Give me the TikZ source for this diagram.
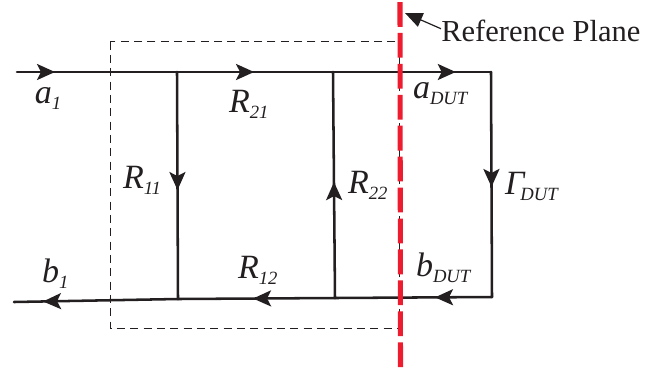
\documentclass[tikz,border=0pt]{standalone}
\usepackage{fontspec}
\setmainfont{Liberation Serif}
\usepackage{xcolor}
\usetikzlibrary{arrows.meta, decorations.markings}
\definecolor{inkblack}{HTML}{231F20}
\definecolor{planered}{HTML}{ED1C2E}
\newcommand{\siglabel}[2]{{\fontsize{25.5}{28}\selectfont\itshape #1}\raisebox{-5pt}{\fontsize{14}{16}\selectfont\itshape #2}}

\begin{document}
\begin{tikzpicture}[
    x=0.75pt, y=-0.75pt,
    wire/.style={draw=inkblack, line width=1.9pt, line cap=round},
    flow/.style={wire, postaction={decorate}, decoration={markings,
        mark=at position #1 with {\arrow[inkblack]{Stealth[length=13.5pt, width=12pt, inset=3pt]}}}},
    siglab/.style={anchor=base west, inner sep=0pt, outer sep=0pt, text=inkblack},
    boxline/.style={draw=inkblack, line width=0.75pt, dash pattern=on 6pt off 4pt},
    plane/.style={draw=planered, line width=3.8pt, dash pattern=on 18.6pt off 4.6pt}
]
\useasboundingbox (0,0) rectangle (665,376);

% Junctions
\coordinate (a1in) at (17,72);
\coordinate (topl) at (177,72);
\coordinate (topr) at (333,72);
\coordinate (cornert) at (491,72);
\coordinate (cornerb) at (492,297);
\coordinate (botr) at (335,298);
\coordinate (botl) at (178,299);
\coordinate (b1out) at (14,302);

% Dashed box
\coordinate (boxnw) at (110,41.5);
\coordinate (boxse) at (399.5,328);
\draw[boxline] (boxnw) rectangle (boxse);

% Top path
\draw[flow=0.2375] (a1in) -- (topl);
\draw[flow=0.494] (topl) -- (topr);
\draw[flow=0.777] (topr) -- (cornert);

% Rungs
\draw[flow=0.52] (topl) -- (botl);
\draw[flow=0.513] (botr) -- (topr);
\draw[flow=0.511] (cornert) -- (cornerb);

% Bottom path
\draw[flow=0.363] (cornerb) -- (botr);
\draw[flow=0.522] (botr) -- (botl);
\draw[flow=0.823] (botl) -- (b1out);

% Reference plane
\coordinate (planetop) at (400,2);
\coordinate (planebot) at (400.5,372);
\draw[plane] (planetop) -- (planebot);

\node[anchor=base west, inner sep=0pt, text=inkblack, font=\fontsize{22.9}{26}\selectfont] (reflabel) at (441,41.5) {Reference Plane};
\coordinate (reftip) at (405,13);
\draw[draw=inkblack, line width=0.9pt, -{Stealth[length=13pt, width=11pt, inset=0pt]}] (reflabel.north west) ++(0,9) -- (reftip);

% Labels
\node[siglab] (a1) at (35,103) {\siglabel{a}{1}};
\node[siglab] (r21) at (229,112) {\siglabel{R}{21}};
\node[siglab] (r11) at (123,188) {\siglabel{R}{11}};
\node[siglab] (r22) at (348,193) {\siglabel{R}{22}};
\node[siglab] (adut) at (413,98) {\siglabel{a}{DUT}};
\node[siglab] (gdut) at (505,194) {\siglabel{Γ\kern-3pt}{DUT}};
\node[siglab] (b1) at (42,282) {\siglabel{b}{1}};
\node[siglab] (r12) at (238,278) {\siglabel{R}{12}};
\node[siglab] (bdut) at (416,276) {\siglabel{b}{DUT}};
\end{tikzpicture}
\end{document}
